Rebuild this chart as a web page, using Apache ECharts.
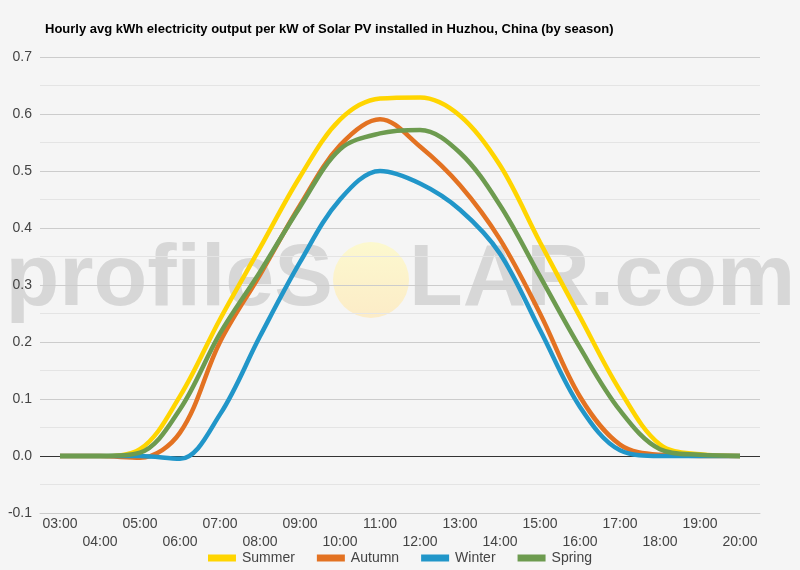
<!DOCTYPE html>
<html lang="en">
<head>
    <meta charset="UTF-8">
    <title>Hourly avg kWh electricity output - Huzhou</title>
    <script type="text/javascript" src="https://cdn.jsdelivr.net/npm/echarts@6/dist/echarts.min.js"></script>
    <style>
        html, body {
            margin: 0;
            padding: 0;
            background: #f5f5f5;
        }

        #main {
            width: 800px;
            height: 570px;
        }
    </style>
</head>
<body>
    <div id="main"></div>

    <script type="text/javascript">
        // data, one value per hour
        var hours = ['03:00', '04:00', '05:00', '06:00', '07:00', '08:00', '09:00', '10:00', '11:00',
            '12:00', '13:00', '14:00', '15:00', '16:00', '17:00', '18:00', '19:00', '20:00'];
        var summer = [0, 0, 0.012, 0.105, 0.24, 0.365, 0.49, 0.59, 0.627, 0.629, 0.597, 0.51, 0.375, 0.244, 0.115, 0.02, 0.003, 0];
        var autumn = [0, 0, -0.003, 0.041, 0.2, 0.318, 0.44, 0.545, 0.591, 0.543, 0.475, 0.38, 0.25, 0.104, 0.02, 0.002, 0, 0];
        var winter = [0, 0, 0, -0.005, 0.073, 0.21, 0.34, 0.45, 0.5, 0.478, 0.432, 0.355, 0.221, 0.086, 0.01, 0, 0, 0];
        var spring = [0, 0, 0.006, 0.082, 0.215, 0.323, 0.437, 0.538, 0.566, 0.572, 0.532, 0.44, 0.315, 0.19, 0.08, 0.012, 0.002, 0];
        var seriesNames = ['Summer', 'Autumn', 'Winter', 'Spring'];
        var seriesColors = ['#ffd500', '#e37222', '#2196c9', '#6d9b4f'];

        var myChart = echarts.init(document.getElementById('main'));

        var allData = [summer, autumn, winter, spring];
        var series = [];
        for (var i = 0; i < allData.length; i++) {
            series.push({
                name: seriesNames[i],
                type: 'line',
                data: allData[i],
                smooth: 0.35,
                symbol: 'none',
                lineStyle: {
                    width: 4.5,
                    color: seriesColors[i]
                },
                itemStyle: {
                    color: seriesColors[i]
                },
                z: 3
            });
        }
        // black zero baseline
        series[0].markLine = {
            silent: true,
            symbol: 'none',
            label: { show: false },
            lineStyle: { color: '#333', width: 1, type: 'solid' },
            data: [{ yAxis: 0 }],
            z: 2
        };

        var wmFont = 'bold 88px "Liberation Sans", Arial, sans-serif';
        var wmColor = 'rgba(170,170,170,0.4)';

        var option = {
            backgroundColor: '#f5f5f5',
            animation: false,
            title: {
                text: 'Hourly avg kWh electricity output per kW of Solar PV installed in Huzhou, China (by season)',
                left: 40,
                top: 18,
                textStyle: {
                    fontFamily: 'Liberation Sans, Arial, sans-serif',
                    fontSize: 13,
                    fontWeight: 'bold',
                    color: '#000'
                }
            },
            legend: {
                data: seriesNames,
                bottom: 0,
                left: 'center',
                icon: 'rect',
                itemWidth: 28,
                itemHeight: 7,
                itemGap: 22,
                textStyle: {
                    fontFamily: 'Liberation Sans, Arial, sans-serif',
                    fontSize: 14,
                    color: '#444',
                    padding: [0, 0, 0, 1]
                }
            },
            grid: {
                left: 40,
                right: 40,
                top: 57,
                bottom: 57
            },
            graphic: [
                {
                    type: 'text',
                    z: 0,
                    style: {
                        text: 'profileS',
                        x: 333,
                        y: 281,
                        align: 'right',
                        verticalAlign: 'middle',
                        font: wmFont,
                        fill: wmColor
                    }
                },
                {
                    type: 'circle',
                    z: 0,
                    shape: { cx: 371, cy: 280, r: 38 },
                    style: {
                        fill: {
                            type: 'linear', x: 0, y: 0, x2: 0, y2: 1,
                            colorStops: [
                                { offset: 0, color: 'rgba(255,250,190,0.7)' },
                                { offset: 1, color: 'rgba(255,232,180,0.7)' }
                            ]
                        }
                    }
                },
                {
                    type: 'text',
                    z: 0,
                    style: {
                        text: 'LAR.com',
                        x: 409,
                        y: 281,
                        align: 'left',
                        verticalAlign: 'middle',
                        font: wmFont,
                        fill: wmColor
                    }
                }
            ],
            xAxis: {
                type: 'category',
                data: hours,
                boundaryGap: true,
                axisLine: {
                    show: true,
                    onZero: false,
                    lineStyle: { color: '#ccc', width: 1 }
                },
                axisTick: { show: false },
                axisLabel: {
                    interval: 0,
                    margin: 2,
                    lineHeight: 18,
                    color: '#444',
                    fontSize: 14,
                    fontFamily: 'Liberation Sans, Arial, sans-serif',
                    formatter: function (value, index) {
                        return index % 2 === 0 ? value : '\n' + value;
                    }
                },
                splitLine: { show: false }
            },
            yAxis: {
                type: 'value',
                min: -0.1,
                max: 0.7,
                interval: 0.1,
                axisLine: { show: false },
                axisTick: { show: false },
                axisLabel: {
                    margin: 8,
                    color: '#444',
                    fontSize: 14,
                    fontFamily: 'Liberation Sans, Arial, sans-serif',
                    formatter: function (v) {
                        return v.toFixed(1);
                    }
                },
                splitLine: {
                    lineStyle: { color: '#cccccc', width: 1 }
                },
                minorTick: { show: false, splitNumber: 2 },
                minorSplitLine: {
                    show: true,
                    lineStyle: { color: '#e4e4e4', width: 1 }
                }
            },
            series: series
        };

        myChart.setOption(option);
        window.addEventListener('resize', function () {
            myChart.resize();
        });
    </script>
</body>
</html>
